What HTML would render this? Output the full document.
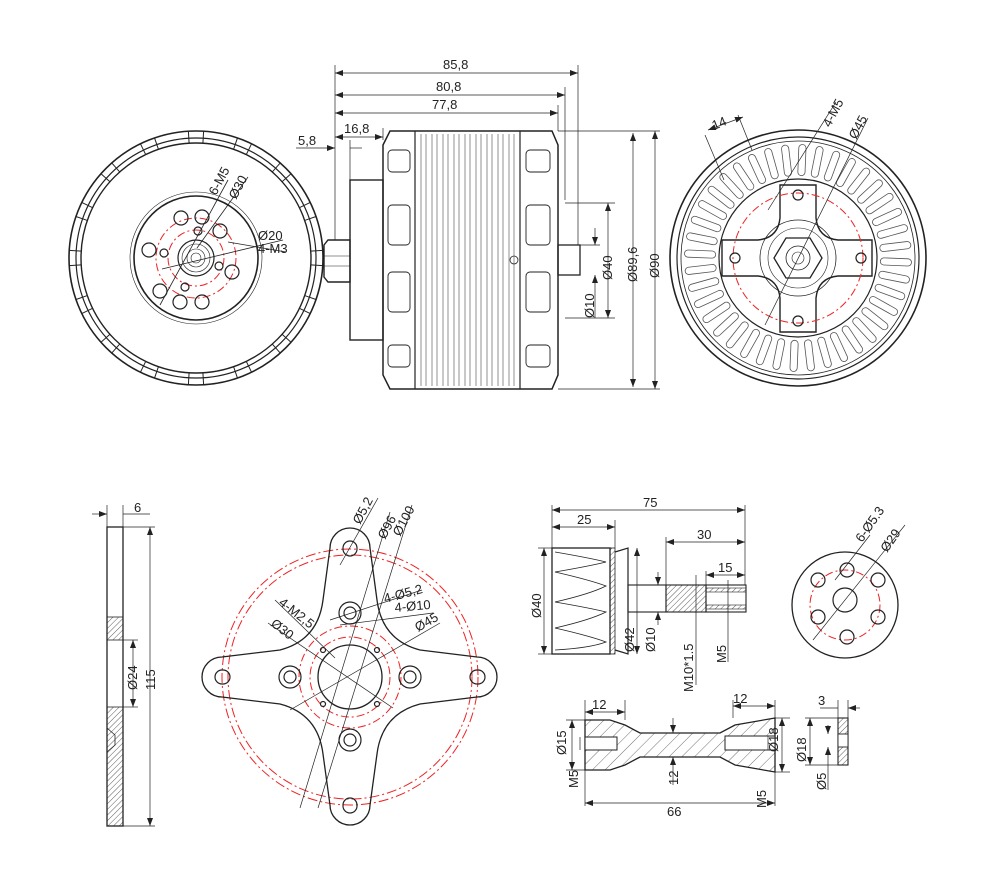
<!DOCTYPE html>
<html><head><meta charset="utf-8"><style>
html,body{margin:0;padding:0;background:#fff}
svg{display:block}
svg text{font-family:"Liberation Sans",sans-serif;font-size:13px;fill:#222;stroke:none}
</style></head><body>
<svg id="s" width="989" height="886" viewBox="0 0 989 886" xmlns="http://www.w3.org/2000/svg">
<defs>
<marker id="a" markerWidth="8" markerHeight="6" refX="8" refY="3" orient="auto-start-reverse" markerUnits="userSpaceOnUse"><path d="M0,0 L8,3 L0,6z" fill="#222" stroke="none"/></marker>
<pattern id="h" width="4" height="4" patternUnits="userSpaceOnUse" patternTransform="rotate(45)"><line x1="0" y1="0" x2="0" y2="4" stroke="#333" stroke-width="0.8"/></pattern>
<pattern id="h2" width="9" height="9" patternUnits="userSpaceOnUse" patternTransform="rotate(45)"><line x1="0" y1="0" x2="0" y2="9" stroke="#333" stroke-width="0.7"/></pattern>
</defs>
<g fill="none" stroke="#222" stroke-width="1.2">

<!-- LEFT FRONT VIEW -->
<circle cx="196" cy="258" r="127" stroke-width="1.6"/>
<circle cx="196" cy="258" r="120"/>
<circle cx="196" cy="258" r="115" stroke-width="1.4"/>
<g id="rim" stroke-width="1"></g>
<circle cx="196" cy="258" r="66" stroke-width="0.6"/>
<circle cx="196" cy="258" r="62" stroke-width="1.6"/>
<circle cx="196" cy="258" r="40" stroke="#e22" stroke-dasharray="8,3,2,3" stroke-width="1"/>
<circle cx="196" cy="258" r="28" stroke="#e22" stroke-dasharray="8,3,2,3" stroke-width="1"/>
<circle cx="196" cy="258" r="18"/><circle cx="196" cy="258" r="14" stroke-width="0.6"/><circle cx="196" cy="258" r="9" stroke-width="0.6"/><circle cx="196" cy="258" r="5" stroke-width="0.6"/>
<circle cx="181" cy="218" r="7"/><circle cx="202" cy="217" r="7"/><circle cx="220" cy="231" r="7"/>
<circle cx="149" cy="250" r="7"/><circle cx="232" cy="272" r="7"/>
<circle cx="160" cy="291" r="7"/><circle cx="180" cy="302" r="7"/><circle cx="202" cy="302" r="7"/>
<circle cx="198" cy="231" r="4"/><circle cx="164" cy="253" r="4"/><circle cx="219" cy="266" r="4"/><circle cx="185" cy="287" r="4"/>
<g stroke-width="0.8">
<line x1="160" y1="305" x2="228" y2="180"/><line x1="197" y1="248" x2="248" y2="177"/><line x1="162" y1="269" x2="283" y2="240"/><line x1="228" y1="242" x2="286" y2="252"/>
</g>
<text transform="translate(216,196) rotate(-62)">6-M5</text>
<text transform="translate(236,200) rotate(-62)">Ø30</text>
<text x="258" y="240">Ø20</text><text x="258" y="253">4-M3</text>

<!-- SIDE VIEW -->
<path d="M383,145 L390,131 L552,131 L558,145 L558,375 L552,389 L390,389 L383,375 Z" stroke-width="1.5"/>
<line x1="415" y1="131" x2="415" y2="389"/><line x1="520" y1="131" x2="520" y2="389"/>
<g stroke-width="0.5">
<path d="M421,134V386M426,134V386M432,134V386M437,134V386M443,134V386M448,134V386M454,134V386M459,134V386M465,134V386M470,134V386M476,134V386M481,134V386M487,134V386M492,134V386M498,134V386M503,134V386M509,134V386M514,134V386"/>
</g>
<g stroke-width="0.9">
<rect x="388" y="150" width="22" height="22" rx="4"/><rect x="388" y="205" width="22" height="40" rx="4"/><rect x="388" y="272" width="22" height="40" rx="4"/><rect x="388" y="345" width="22" height="22" rx="4"/>
<rect x="526" y="150" width="24" height="22" rx="4"/><rect x="526" y="205" width="24" height="40" rx="4"/><rect x="526" y="272" width="24" height="40" rx="4"/><rect x="526" y="345" width="24" height="22" rx="4"/>
</g>
<circle cx="514" cy="260" r="4" stroke-width="0.8"/>
<rect x="350" y="180" width="33" height="160" stroke-width="1.4"/>
<path d="M324,245 L328,240 L350,240 L350,282 L328,282 L324,277 Z" stroke-width="1.4"/>
<line x1="324" y1="256" x2="350" y2="256" stroke-width="0.6"/><line x1="324" y1="266" x2="350" y2="266" stroke-width="0.6"/>
<rect x="558" y="245" width="22" height="30" stroke-width="1.3"/>
<g stroke-width="0.7">
<line x1="335" y1="65" x2="335" y2="240"/><line x1="578" y1="65" x2="578" y2="245"/><line x1="565" y1="87" x2="565" y2="200"/><line x1="558" y1="105" x2="558" y2="131"/><line x1="383" y1="128" x2="383" y2="140"/><line x1="350" y1="140" x2="350" y2="180"/>
<line x1="335" y1="73" x2="578" y2="73" marker-start="url(#a)" marker-end="url(#a)"/>
<line x1="335" y1="95" x2="565" y2="95" marker-start="url(#a)" marker-end="url(#a)"/>
<line x1="335" y1="113" x2="558" y2="113" marker-start="url(#a)" marker-end="url(#a)"/>
<line x1="335" y1="137" x2="383" y2="137" marker-start="url(#a)" marker-end="url(#a)"/>
<line x1="296" y1="148" x2="335" y2="148" marker-end="url(#a)"/><line x1="350" y1="148" x2="362" y2="148"/>
<line x1="558" y1="131" x2="660" y2="131"/><line x1="558" y1="389" x2="660" y2="389"/>
<line x1="565" y1="203" x2="615" y2="203"/><line x1="565" y1="318" x2="615" y2="318"/>
<line x1="580" y1="245" x2="600" y2="245"/>
<line x1="655" y1="131" x2="655" y2="389" marker-start="url(#a)" marker-end="url(#a)"/>
<line x1="633" y1="133" x2="633" y2="387" marker-start="url(#a)" marker-end="url(#a)"/>
<line x1="608" y1="203" x2="608" y2="318" marker-start="url(#a)" marker-end="url(#a)"/>
<line x1="595" y1="228" x2="595" y2="245" marker-end="url(#a)"/><line x1="595" y1="275" x2="595" y2="318" marker-start="url(#a)"/>
</g>
<text x="443" y="69">85,8</text><text x="436" y="91">80,8</text><text x="432" y="109">77,8</text><text x="344" y="133">16,8</text><text x="298" y="145">5,8</text>
<text transform="translate(594,318) rotate(-90)">Ø10</text>
<text transform="translate(612,280) rotate(-90)">Ø40</text>
<text transform="translate(637,282) rotate(-90)">Ø89,6</text>
<text transform="translate(659,278) rotate(-90)">Ø90</text>

<!-- RIGHT BACK VIEW -->
<circle cx="798" cy="258" r="128" stroke-width="1.6"/>
<circle cx="798" cy="258" r="121"/>
<circle cx="798" cy="258" r="117" stroke-width="0.8"/>
<g id="spk"></g>
<circle cx="798" cy="258" r="79" stroke-width="1.2"/>
<path d="M780,185 L816,185 L816,218 Q818,238 838,240 L872,240 L872,276 L838,276 Q818,278 816,298 L816,332 L780,332 L780,298 Q778,278 758,276 L722,276 L722,240 L758,240 Q778,238 780,218 Z" fill="#fff" stroke-width="1.4"/>
<circle cx="798" cy="258" r="65" stroke="#e22" stroke-dasharray="8,3,2,3" stroke-width="1"/>
<circle cx="798" cy="258" r="38" stroke-width="0.8"/><circle cx="798" cy="258" r="30" stroke-width="0.6"/>
<path d="M786,238 L810,238 L822,258 L810,278 L786,278 L774,258 Z" stroke-width="1.3"/>
<circle cx="798" cy="258" r="12" stroke-width="0.8"/><circle cx="798" cy="258" r="6" stroke-width="0.6"/>
<circle cx="798" cy="195" r="5"/><circle cx="798" cy="321" r="5"/><circle cx="735" cy="258" r="5"/><circle cx="861" cy="258" r="5"/>
<g stroke-width="0.7">
<line x1="705" y1="135" x2="724" y2="180"/><line x1="738" y1="115" x2="752" y2="150"/>
<line x1="708" y1="130" x2="743" y2="117" marker-start="url(#a)" marker-end="url(#a)"/>
<line x1="768" y1="210" x2="836" y2="102"/><line x1="765" y1="325" x2="868" y2="118"/>
</g>
<text transform="translate(714,130) rotate(-22)">14</text>
<text transform="translate(830,128) rotate(-62)">4-M5</text>
<text transform="translate(856,140) rotate(-62)">Ø45</text>

<!-- PLATE SIDE -->
<rect x="107" y="527" width="16" height="299" stroke-width="1.3"/>
<rect x="107" y="617" width="16" height="23" fill="url(#h)" stroke-width="0.8"/>
<rect x="107" y="707" width="16" height="119" fill="url(#h)" stroke-width="0.8"/>
<path d="M107,728 L115,735 L115,745 L107,752" stroke-width="0.8"/>
<g stroke-width="0.7">
<line x1="107" y1="505" x2="107" y2="527"/><line x1="123" y1="505" x2="123" y2="527"/>
<line x1="92" y1="514" x2="107" y2="514" marker-end="url(#a)"/><line x1="123" y1="514" x2="150" y2="514"/>
<line x1="123" y1="527" x2="155" y2="527"/><line x1="123" y1="826" x2="155" y2="826"/>
<line x1="150" y1="527" x2="150" y2="826" marker-start="url(#a)" marker-end="url(#a)"/>
<line x1="123" y1="640" x2="138" y2="640"/><line x1="123" y1="707" x2="138" y2="707"/>
<line x1="133" y1="640" x2="133" y2="707" marker-start="url(#a)" marker-end="url(#a)"/>
</g>
<text x="134" y="512">6</text>
<text transform="translate(137,690) rotate(-90)">Ø24</text>
<text transform="translate(155,690) rotate(-90)">115</text>

<!-- CROSS MOUNT -->
<circle cx="350" cy="677" r="128" stroke="#e22" stroke-dasharray="10,3,2,3" stroke-width="1"/>
<circle cx="350" cy="677" r="122" stroke="#e22" stroke-dasharray="10,3,2,3" stroke-width="1"/>
<path d="M330,548 A20,20 0 0 1 370,548 L377,600 Q382,640 420,650 L477,657 A20,20 0 0 1 477,697 L420,704 Q382,714 377,754 L370,805 A20,20 0 0 1 330,805 L323,754 Q318,714 280,704 L222,697 A20,20 0 0 1 222,657 L280,650 Q318,640 323,600 Z" stroke-width="1.3"/>
<circle cx="350" cy="677" r="51" stroke="#e22" stroke-dasharray="8,3,2,3" stroke-width="1"/>
<circle cx="350" cy="677" r="40" stroke="#e22" stroke-dasharray="8,3,2,3" stroke-width="1"/>
<circle cx="350" cy="677" r="32" stroke-width="1.3"/>
<circle cx="350" cy="613" r="11"/><circle cx="350" cy="613" r="6"/>
<circle cx="350" cy="740" r="11"/><circle cx="350" cy="740" r="6"/>
<circle cx="290" cy="677" r="11"/><circle cx="290" cy="677" r="6"/>
<circle cx="410" cy="677" r="11"/><circle cx="410" cy="677" r="6"/>
<rect x="343" y="541" width="14" height="15" rx="7"/><rect x="343" y="798" width="14" height="15" rx="7"/>
<rect x="215" y="670" width="15" height="14" rx="7"/><rect x="470" y="670" width="15" height="14" rx="7"/>
<circle cx="323" cy="650" r="2.5"/><circle cx="377" cy="650" r="2.5"/><circle cx="323" cy="704" r="2.5"/><circle cx="377" cy="704" r="2.5"/>
<g stroke-width="0.7">
<line x1="340" y1="565" x2="378" y2="498"/>
<line x1="300" y1="808" x2="390" y2="512"/><line x1="318" y1="808" x2="412" y2="505"/>
<line x1="330" y1="620" x2="422" y2="590"/><line x1="340" y1="625" x2="433" y2="613"/>
<line x1="275" y1="600" x2="335" y2="658"/><line x1="268" y1="623" x2="393" y2="708"/>
<line x1="290" y1="710" x2="440" y2="623"/>
</g>
<text transform="translate(360,525) rotate(-62)">Ø5,2</text>
<text transform="translate(385,540) rotate(-62)">Ø96</text>
<text transform="translate(400,537) rotate(-62)">Ø100</text>
<text transform="translate(385,603) rotate(-15)">4-Ø5,2</text>
<text transform="translate(395,612) rotate(-5)">4-Ø10</text>
<text transform="translate(278,604) rotate(38)">4-M2,5</text>
<text transform="translate(270,625) rotate(38)">Ø30</text>
<text transform="translate(418,632) rotate(-30)">Ø45</text>

<!-- SHAFT ASSEMBLY -->
<rect x="552" y="548" width="58" height="106" stroke-width="1.3"/>
<path d="M555,552 Q590,558 606,562 Q590,566 555,572 Q590,580 606,586 Q590,594 555,602 Q590,608 606,612 Q590,620 555,628 Q590,636 606,642 Q590,648 555,650" stroke-width="0.8"/>
<rect x="610" y="548" width="5" height="106" fill="url(#h)" stroke-width="0.8"/>
<path d="M615,552 L628,548 L628,654 L615,650" stroke-width="1.2"/>
<rect x="628" y="585" width="38" height="27" stroke-width="1.1"/>
<rect x="666" y="585" width="40" height="27" fill="url(#h)" stroke-width="1.1"/>
<rect x="706" y="585" width="40" height="27" stroke-width="1.1"/>
<rect x="706" y="588" width="40" height="4" fill="url(#h)" stroke-width="0.6"/>
<rect x="706" y="605" width="40" height="4" fill="url(#h)" stroke-width="0.6"/>
<g stroke-width="0.7">
<line x1="552" y1="505" x2="552" y2="548"/><line x1="745" y1="505" x2="745" y2="585"/><line x1="615" y1="520" x2="615" y2="548"/><line x1="666" y1="537" x2="666" y2="585"/><line x1="706" y1="571" x2="706" y2="585"/>
<line x1="552" y1="510" x2="745" y2="510" marker-start="url(#a)" marker-end="url(#a)"/>
<line x1="552" y1="527" x2="615" y2="527" marker-start="url(#a)" marker-end="url(#a)"/>
<line x1="666" y1="542" x2="745" y2="542" marker-start="url(#a)" marker-end="url(#a)"/>
<line x1="706" y1="575" x2="745" y2="575" marker-start="url(#a)" marker-end="url(#a)"/>
<line x1="538" y1="548" x2="552" y2="548"/><line x1="538" y1="654" x2="552" y2="654"/>
<line x1="544" y1="548" x2="544" y2="654" marker-start="url(#a)" marker-end="url(#a)"/>
<line x1="637" y1="548" x2="637" y2="654" marker-start="url(#a)" marker-end="url(#a)"/>
<line x1="658" y1="572" x2="658" y2="585" marker-end="url(#a)"/><line x1="658" y1="612" x2="658" y2="625" marker-start="url(#a)"/>
<line x1="696" y1="575" x2="696" y2="685"/>
<line x1="728" y1="580" x2="728" y2="662"/>
</g>
<text x="643" y="507">75</text><text x="577" y="524">25</text><text x="697" y="539">30</text><text x="718" y="572">15</text>
<text transform="translate(541,618) rotate(-90)">Ø40</text>
<text transform="translate(634,652) rotate(-90)">Ø42</text>
<text transform="translate(655,652) rotate(-90)">Ø10</text>
<text transform="translate(693,692) rotate(-90)">M10*1.5</text>
<text transform="translate(726,663) rotate(-90)">M5</text>

<!-- small disk -->
<circle cx="845" cy="605" r="53" stroke-width="1.3"/>
<circle cx="845" cy="605" r="35" stroke="#e22" stroke-dasharray="8,3,2,3" stroke-width="1"/>
<circle cx="845" cy="600" r="12"/>
<circle cx="847" cy="570" r="7"/><circle cx="818" cy="580" r="7"/><circle cx="818" cy="617" r="7"/><circle cx="847" cy="637" r="7"/><circle cx="878" cy="580" r="7"/><circle cx="878" cy="617" r="7"/>
<g stroke-width="0.7"><line x1="835" y1="580" x2="870" y2="535"/><line x1="813" y1="640" x2="905" y2="525"/></g>
<text transform="translate(862,543) rotate(-55)">6-Ø5.3</text>
<text transform="translate(887,553) rotate(-55)">Ø29</text>

<!-- bottom shaft -->
<path d="M585,720 L610,720 L625,725 L640,733 L720,733 L735,725 L775,718 L775,772 L735,765 L720,757 L640,757 L625,765 L610,770 L585,770 Z" fill="url(#h2)" stroke-width="1.3"/>
<rect x="585" y="737" width="32" height="13" fill="#fff" stroke-width="1"/>
<rect x="725" y="736" width="50" height="14" fill="#fff" stroke-width="1"/>
<g stroke-width="0.7">
<line x1="585" y1="700" x2="585" y2="806"/><line x1="625" y1="700" x2="625" y2="720"/><line x1="733" y1="700" x2="733" y2="718"/><line x1="775" y1="700" x2="775" y2="806"/>
<line x1="585" y1="712" x2="625" y2="712" marker-start="url(#a)" marker-end="url(#a)"/>
<line x1="733" y1="706" x2="775" y2="706" marker-start="url(#a)" marker-end="url(#a)"/>
<line x1="585" y1="803" x2="775" y2="803" marker-start="url(#a)" marker-end="url(#a)"/>
<line x1="566" y1="720" x2="585" y2="720"/><line x1="566" y1="770" x2="585" y2="770"/>
<line x1="572" y1="720" x2="572" y2="770" marker-start="url(#a)" marker-end="url(#a)"/>
<line x1="580" y1="737" x2="580" y2="750"/>
<line x1="775" y1="718" x2="790" y2="718"/><line x1="775" y1="772" x2="790" y2="772"/>
<line x1="782" y1="718" x2="782" y2="772" marker-start="url(#a)" marker-end="url(#a)"/>
<line x1="768" y1="736" x2="768" y2="750"/>
<line x1="673" y1="718" x2="673" y2="733" marker-end="url(#a)"/><line x1="673" y1="757" x2="673" y2="785" marker-start="url(#a)"/>
</g>
<text x="592" y="709">12</text><text x="733" y="703">12</text><text x="667" y="816">66</text>
<text transform="translate(566,755) rotate(-90)">Ø15</text>
<text transform="translate(578,788) rotate(-90)">M5</text>
<text transform="translate(678,785) rotate(-90)">12</text>
<text transform="translate(778,752) rotate(-90)">Ø18</text>
<text transform="translate(766,808) rotate(-90)">M5</text>

<!-- small washer -->
<rect x="838" y="718" width="10" height="47" fill="url(#h)" stroke-width="1.1"/>
<rect x="838" y="734" width="10" height="13" fill="#fff" stroke-width="0.9"/>
<g stroke-width="0.7">
<line x1="838" y1="700" x2="838" y2="718"/><line x1="848" y1="700" x2="848" y2="718"/>
<line x1="820" y1="708" x2="838" y2="708"/><line x1="848" y1="708" x2="860" y2="708" marker-start="url(#a)"/>
<line x1="805" y1="718" x2="838" y2="718"/><line x1="805" y1="765" x2="838" y2="765"/>
<line x1="810" y1="718" x2="810" y2="765" marker-start="url(#a)" marker-end="url(#a)"/>
<line x1="828" y1="725" x2="828" y2="734" marker-end="url(#a)"/><line x1="828" y1="747" x2="828" y2="790" marker-start="url(#a)"/>
</g>
<text x="818" y="705">3</text>
<text transform="translate(806,762) rotate(-90)">Ø18</text>
<text transform="translate(826,790) rotate(-90)">Ø5</text>
</g>
</svg>
<script>
(function(){
var NS="http://www.w3.org/2000/svg";
function el(p,t,a){var e=document.createElementNS(NS,t);for(var k in a)e.setAttribute(k,a[k]);p.appendChild(e);return e;}
var rim=document.getElementById("rim");
for(var i=0;i<16;i++){
 var base=i*22.5*Math.PI/180;
 [-0.06,0.06].forEach(function(d){
  var t=base+d,c=Math.cos(t),s=Math.sin(t);
  el(rim,"line",{x1:196+115*c,y1:258+115*s,x2:196+127*c,y2:258+127*s});
 });
}
var g=document.getElementById("spk");
var n=40;
for(var j=0;j<n;j++){
 var t=j*2*Math.PI/n+0.04,c=Math.cos(t),s=Math.sin(t);
 var a={x1:798+86*c,y1:258+86*s,x2:798+110*c,y2:258+110*s};
 var o=Object.assign({},a,{stroke:"#555","stroke-width":8,"stroke-linecap":"round"});
 el(g,"line",o);
 var w=Object.assign({},a,{stroke:"#fff","stroke-width":6.4,"stroke-linecap":"round"});
 el(g,"line",w);
}
})();
</script>
</body></html>
